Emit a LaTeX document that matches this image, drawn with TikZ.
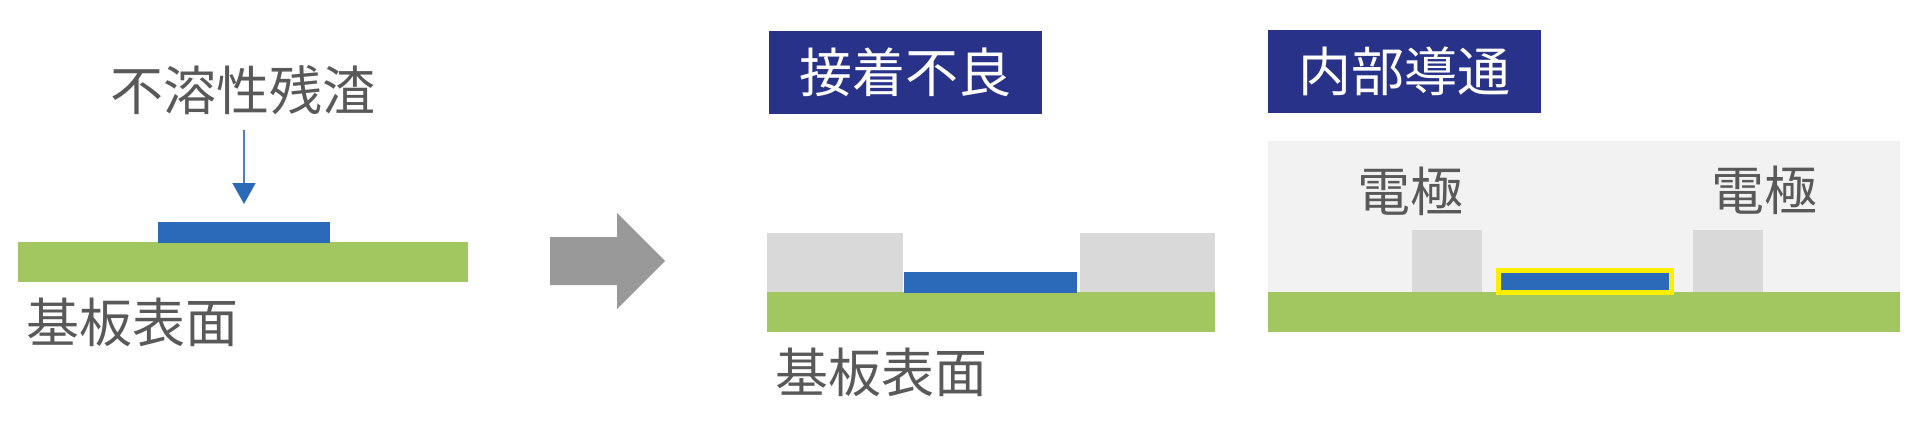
\documentclass[tikz,border=0pt]{standalone}
\usepackage{fontspec}
\newfontfamily\jpfont{Noto Sans CJK JP}
\usepackage{tikz}
\usetikzlibrary{arrows.meta, positioning}
\definecolor{subgreen}{HTML}{A2C760}
\definecolor{resblue}{HTML}{2A6AB8}
\definecolor{ptrblue}{HTML}{4A80C4}
\definecolor{tagnavy}{HTML}{283289}
\definecolor{padgray}{HTML}{D9D9D9}
\definecolor{bggray}{HTML}{F2F2F2}
\definecolor{txtgray}{HTML}{595959}
\definecolor{bigarrow}{HTML}{999999}
\definecolor{glow}{HTML}{FFEE00}

\begin{document}
\begin{tikzpicture}[x=1pt, y=-1pt, >=Latex, font=\jpfont\fontsize{53}{60}\selectfont,
  txt/.style={text=txtgray, inner sep=0pt},
  tag/.style={fill=tagnavy, text=white, minimum width=273pt, minimum height=83pt, inner sep=0pt},
  substrate/.style={fill=subgreen},
  pad/.style={fill=padgray},
  residue/.style={fill=resblue, inner sep=0pt, outer sep=0pt},
  ptr/.style={draw=ptrblue, line width=1.5pt, -{Triangle[width=23pt, length=21pt, color=resblue]}, shorten <=15pt, shorten >=18pt}]
\useasboundingbox (0,0) rectangle (1920,437);
% residue on the substrate
\fill[substrate] (18,242) rectangle (468,282);
\node[residue, minimum width=172pt, minimum height=21pt] (res) at (244,232.5) {};
\node[txt] (insol) at (243,90) {不溶性残渣};
\node[txt] (surfA) at (133,322) {基板表面};
\draw[ptr] (res.north |- insol.south) -- (res.north);
% big arrow
\fill[bigarrow] (550,237) -- (617,237) -- (617,213) -- (665,261) -- (617,309) -- (617,285) -- (550,285) -- cycle;
% poor adhesion
\node[tag] (adh) at (905,72.5) {接着不良};
\fill[pad] (767,233) rectangle (903,292);
\fill[pad] (1080,233) rectangle (1215,292);
\fill[substrate] (767,292) rectangle (1215,332);
\node[residue, minimum width=173pt, minimum height=21pt] (resB) at (990.5,282.5) {};
\node[txt] (surfB) at (881,372) {基板表面};
% internal conduction
\node[tag] (cond) at (1404.5,71.5) {内部導通};
\fill[bggray] (1268,141) rectangle (1900,292);
\fill[substrate] (1268,292) rectangle (1900,332);
\fill[pad] (1412,230) rectangle (1482,292);
\fill[pad] (1693,230) rectangle (1763,292);
\node[residue, draw=glow, line width=5pt, minimum width=173pt, minimum height=22pt] (resC) at (1585,281.5) {};
\node[txt] (elL) at (1410,191) {電極};
\node[txt] (elR) at (1764,190) {電極};
\end{tikzpicture}
\end{document}
